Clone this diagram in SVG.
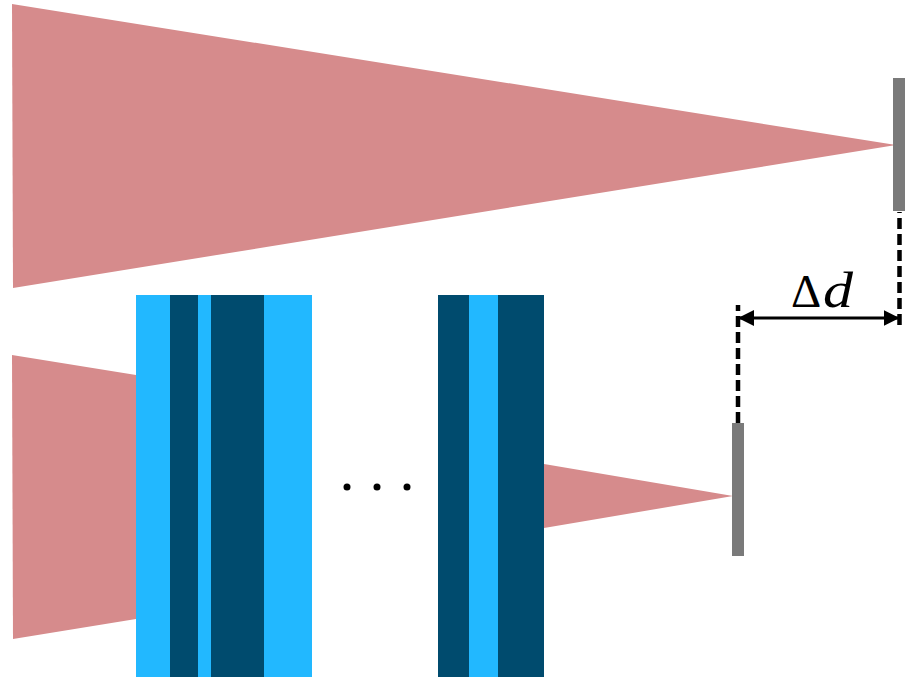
<svg xmlns="http://www.w3.org/2000/svg" width="923" height="677" viewBox="0 0 923 677">
<style>
.beam{fill:#d68b8c}
.light{fill:#22b8ff}
.dark{fill:#004b6e}
.sensor{fill:#7a7a7a}
.dash{stroke:#000;stroke-width:4.500;stroke-dasharray:11 5;fill:none}
.dim{stroke:#000;stroke-width:3;fill:none;marker-start:url(#a);marker-end:url(#a)}
.dot{fill:#000}
</style>
<defs><marker id="a" viewBox="0 0 16 16" refX="16" refY="8" markerWidth="16" markerHeight="16" markerUnits="userSpaceOnUse" orient="auto-start-reverse"><path d="M0 0L16 8L0 16Z" fill="#000"/></marker></defs>
<rect width="923" height="677" fill="#fff"/>
<g id="beam-top"><polygon class="beam" points="12,4 896,145 13,288"/></g>
<g id="beam-bottom-in"><polygon class="beam" points="12,355 136,375 136,619 13,639"/></g>
<g id="beam-bottom-out"><polygon class="beam" points="544,464 733,496 544,528"/></g>
<g id="stack-left">
<rect class="light" x="136" y="295" width="176" height="382"/>
<rect class="dark" x="170" y="295" width="28" height="382"/>
<rect class="dark" x="211" y="295" width="53" height="382"/>
</g>
<g id="stack-right">
<rect class="dark" x="438" y="295" width="106" height="382"/>
<rect class="light" x="469" y="295" width="29" height="382"/>
</g>
<g id="dots"><circle class="dot" cx="347" cy="487" r="3.500"/><circle class="dot" cx="377" cy="487" r="3.500"/><circle class="dot" cx="407" cy="487" r="3.500"/></g>
<g id="sensor-top"><rect class="sensor" x="893" y="78" width="12" height="133"/></g>
<g id="sensor-bottom"><rect class="sensor" x="732" y="423" width="12" height="133"/></g>
<g id="connectors">
<path class="dash" d="M899.500 325V212"/>
<path class="dash" d="M738 423V305"/>
<path class="dim" d="M738 318H899.500"/>
</g>
<g id="label"><text x="791" y="307" font-family="'Liberation Serif',serif" font-size="47">Δ</text><text x="823" y="307" font-family="'Liberation Serif',serif" font-style="italic" font-size="50" textLength="30" lengthAdjust="spacingAndGlyphs">d</text></g>
</svg>
